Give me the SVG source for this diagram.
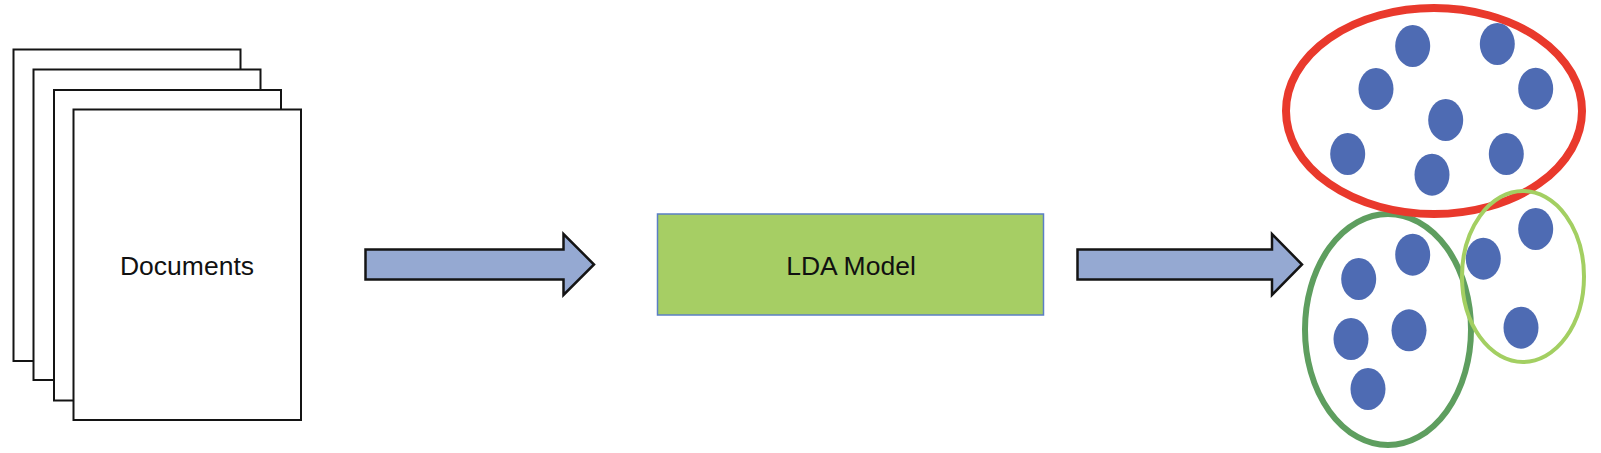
<svg xmlns="http://www.w3.org/2000/svg" width="1601" height="453" viewBox="0 0 1601 453">
<style>
.page{fill:#ffffff;stroke:#141414;stroke-width:2}
.label{font-family:"Liberation Sans",Arial,sans-serif;font-size:26.5px;fill:#111111;text-anchor:middle}
.arrow{fill:#95A9D2;stroke:#141414;stroke-width:2.5;stroke-linejoin:miter}
.dot{fill:#4E6BB3}
.cluster{fill:none}
</style>
<rect width="1601" height="453" fill="#ffffff"/>
<g id="documents">
<rect class="page" x="13.5" y="49.5" width="227" height="311.5"/>
<rect class="page" x="33.5" y="69.5" width="227" height="310.5"/>
<rect class="page" x="54" y="90" width="227" height="310.5"/>
<rect class="page" x="73.5" y="109.5" width="227.5" height="310.5"/>
<text class="label" x="187" y="275">Documents</text>
</g>
<g id="lda-model">
<rect x="657.5" y="214" width="386" height="101" fill="#A6CE64" stroke="#5B7FC4" stroke-width="1.5"/>
<text class="label" x="851" y="275">LDA Model</text>
</g>
<g id="connectors">
<polygon class="arrow" points="365.5,249.5 563.5,249.5 563.5,234 594,264.5 563.5,295 563.5,279.5 365.5,279.5"/>
<polygon class="arrow" points="1077.5,249.5 1272,249.5 1272,234 1302,264.5 1272,295 1272,279.5 1077.5,279.5"/>
</g>
<g id="topics">
<g id="topic-darkgreen">
<ellipse class="cluster" cx="1388" cy="329.5" rx="83" ry="115.5" stroke="#5E9E5F" stroke-width="6"/>
<ellipse class="dot" cx="1412.7" cy="254.7" rx="17.5" ry="21"/>
<ellipse class="dot" cx="1358.7" cy="279" rx="17.5" ry="21"/>
<ellipse class="dot" cx="1351" cy="339" rx="17.5" ry="21"/>
<ellipse class="dot" cx="1409" cy="330.3" rx="17.5" ry="21"/>
<ellipse class="dot" cx="1368" cy="389" rx="17.5" ry="21"/>
</g>
<g id="topic-red">
<ellipse class="cluster" cx="1434" cy="111" rx="148" ry="103" stroke="#E9392C" stroke-width="8"/>
<ellipse class="dot" cx="1412.7" cy="46" rx="17.5" ry="21"/>
<ellipse class="dot" cx="1497.3" cy="44" rx="17.5" ry="21"/>
<ellipse class="dot" cx="1376" cy="89" rx="17.5" ry="21"/>
<ellipse class="dot" cx="1535.7" cy="88.7" rx="17.5" ry="21"/>
<ellipse class="dot" cx="1445.7" cy="120" rx="17.5" ry="21"/>
<ellipse class="dot" cx="1347.7" cy="154" rx="17.5" ry="21"/>
<ellipse class="dot" cx="1432" cy="174.7" rx="17.5" ry="21"/>
<ellipse class="dot" cx="1506.3" cy="154" rx="17.5" ry="21"/>
</g>
<g id="topic-lightgreen">
<ellipse class="cluster" cx="1523" cy="276.5" rx="61" ry="85.5" stroke="#A3CF62" stroke-width="4"/>
<ellipse class="dot" cx="1535.7" cy="229" rx="17.5" ry="21"/>
<ellipse class="dot" cx="1483.3" cy="258.7" rx="17.5" ry="21"/>
<ellipse class="dot" cx="1521" cy="327.7" rx="17.5" ry="21"/>
</g>
</g>
</svg>
